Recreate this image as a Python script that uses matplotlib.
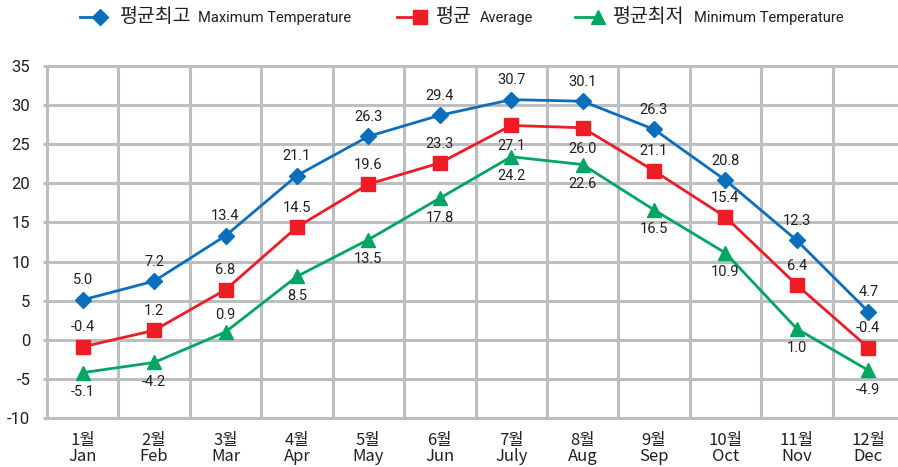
import matplotlib
matplotlib.use("Agg")
import matplotlib.pyplot as plt
from matplotlib.lines import Line2D
from matplotlib import font_manager
import numpy as np

# month labels
months_ko = ["1월", "2월", "3월", "4월", "5월", "6월", "7월", "8월", "9월", "10월", "11월", "12월"]
months_en = ["Jan", "Feb", "Mar", "Apr", "May", "Jun", "July", "Aug", "Sep", "Oct", "Nov", "Dec"]

# marker positions
max_vals = [5.1, 7.5, 13.3, 21.0, 26.0, 28.7, 30.7, 30.5, 26.9, 20.4, 12.7, 3.6]
avg_vals = [-0.9, 1.2, 6.4, 14.4, 19.9, 22.6, 27.4, 27.1, 21.6, 15.7, 7.0, -1.0]
min_vals = [-4.2, -2.9, 1.0, 8.1, 12.8, 18.1, 23.4, 22.4, 16.6, 11.1, 1.4, -3.9]

# data labels as printed on the chart
max_labels = ["5.0", "7.2", "13.4", "21.1", "26.3", "29.4", "30.7", "30.1", "26.3", "20.8", "12.3", "4.7"]
avg_labels = ["-0.4", "1.2", "6.8", "14.5", "19.6", "23.3", "27.1", "26.0", "21.1", "15.4", "6.4", "-0.4"]
min_labels = ["-5.1", "-4.2", "0.9", "8.5", "13.5", "17.8", "24.2", "22.6", "16.5", "10.9", "1.0", "-4.9"]

yticks = [-10, -5, 0, 5, 10, 15, 20, 25, 30, 35]

BLUE = "#0A6EBD"
RED = "#EE1C25"
GREEN = "#00A661"
GRID = "#BDBEC0"
TXT = "#231F20"

avail = {f.name for f in font_manager.fontManager.ttflist}
if "Liberation Sans Narrow" in avail:
    NARROW = ["Liberation Sans Narrow", "DejaVu Sans"]
else:
    NARROW = ["Roboto", "DejaVu Sans"]
KR = ["Noto Sans CJK KR", "DejaVu Sans"]

W, H = 898, 467
fig = plt.figure(figsize=(W / 100, H / 100), dpi=100)

def px(x, y):
    return x / W, 1 - y / H

left, right = 47, 904
top, bottom = 66, 418
ax = fig.add_axes([left / W, 1 - bottom / H, (right - left) / W, (bottom - top) / H])

x = np.arange(len(months_en))
ax.set_xlim(-0.5, len(months_en) - 0.5)
ax.set_ylim(-10, 35)

# grid
lw_grid = 2.2
ax.set_yticks(yticks)
ax.set_xticks(x)
ax.set_xticks(np.arange(-0.5, len(months_en), 1), minor=True)
ax.grid(True, axis="y", which="major", color=GRID, lw=lw_grid)
ax.grid(True, axis="x", which="minor", color=GRID, lw=lw_grid)
ax.set_axisbelow(True)
for s in ["top", "bottom", "left"]:
    ax.spines[s].set_color(GRID)
    ax.spines[s].set_linewidth(lw_grid)
ax.spines["right"].set_visible(False)

ax.tick_params(axis="y", length=3, width=lw_grid, color=GRID, pad=9, labelcolor=TXT)
ax.tick_params(axis="x", which="both", length=0, pad=10)
ax.set_yticklabels([str(v) for v in yticks], family=NARROW, fontsize=12)
ax.set_xticklabels([f"{k}\n{e}" for k, e in zip(months_ko, months_en)],
                   family=KR, fontsize=12, color=TXT, linespacing=0.9)

series = [
    (max_vals, max_labels, BLUE, "D", 8.5, "평균최고", "Maximum Temperature"),
    (avg_vals, avg_labels, RED, "s", 9.5, "평균", "Average"),
    (min_vals, min_labels, GREEN, "^", 10, "평균최저", "Minimum Temperature"),
]

# label placement (points, + above / - below)
offsets = [
    [14] * 12,
    [14, 14, 14, 14, 14, 14, -15, -15, 14, 14, 14, 14],
    [-14, -14, 12, -14, -14, -14, -14, -14, -14, -14, -14, -14],
]

for (vals, labels, color, mk, ms, ko, en), offs in zip(series, offsets):
    ax.plot(x, vals, color=color, lw=2.0, marker=mk, ms=ms, mec=color, mfc=color, zorder=3)
    for xi, v, lab, o in zip(x, vals, labels, offs):
        ax.annotate(lab, (xi, v), xytext=(0, o), textcoords="offset points",
                    ha="center", va="center", fontsize=10.5, family=NARROW, color=TXT)

# legend drawn across the top
legend_items = [
    (80, 100, 120, 198),
    (397, 420, 436, 480),
    (575, 598, 613, 694),
]
for (vals, labels, color, mk, ms, ko, en), (lx0, mx, kx, ex) in zip(series, legend_items):
    y = 17
    fig.add_artist(Line2D([lx0 / W, mx / W], [1 - y / H] * 2, transform=fig.transFigure,
                          color=color, lw=2.0))
    fig.add_artist(Line2D([mx / W], [1 - y / H], transform=fig.transFigure,
                          color=color, marker=mk, ms=ms, lw=0))
    fig.text(*px(kx, y), ko, family=KR, fontsize=14, color=TXT, ha="left", va="center")
    fig.text(*px(ex, y + 1), en, family=NARROW, fontsize=10.5, color=TXT, ha="left", va="center")

fig.savefig("out.png", dpi=100)
